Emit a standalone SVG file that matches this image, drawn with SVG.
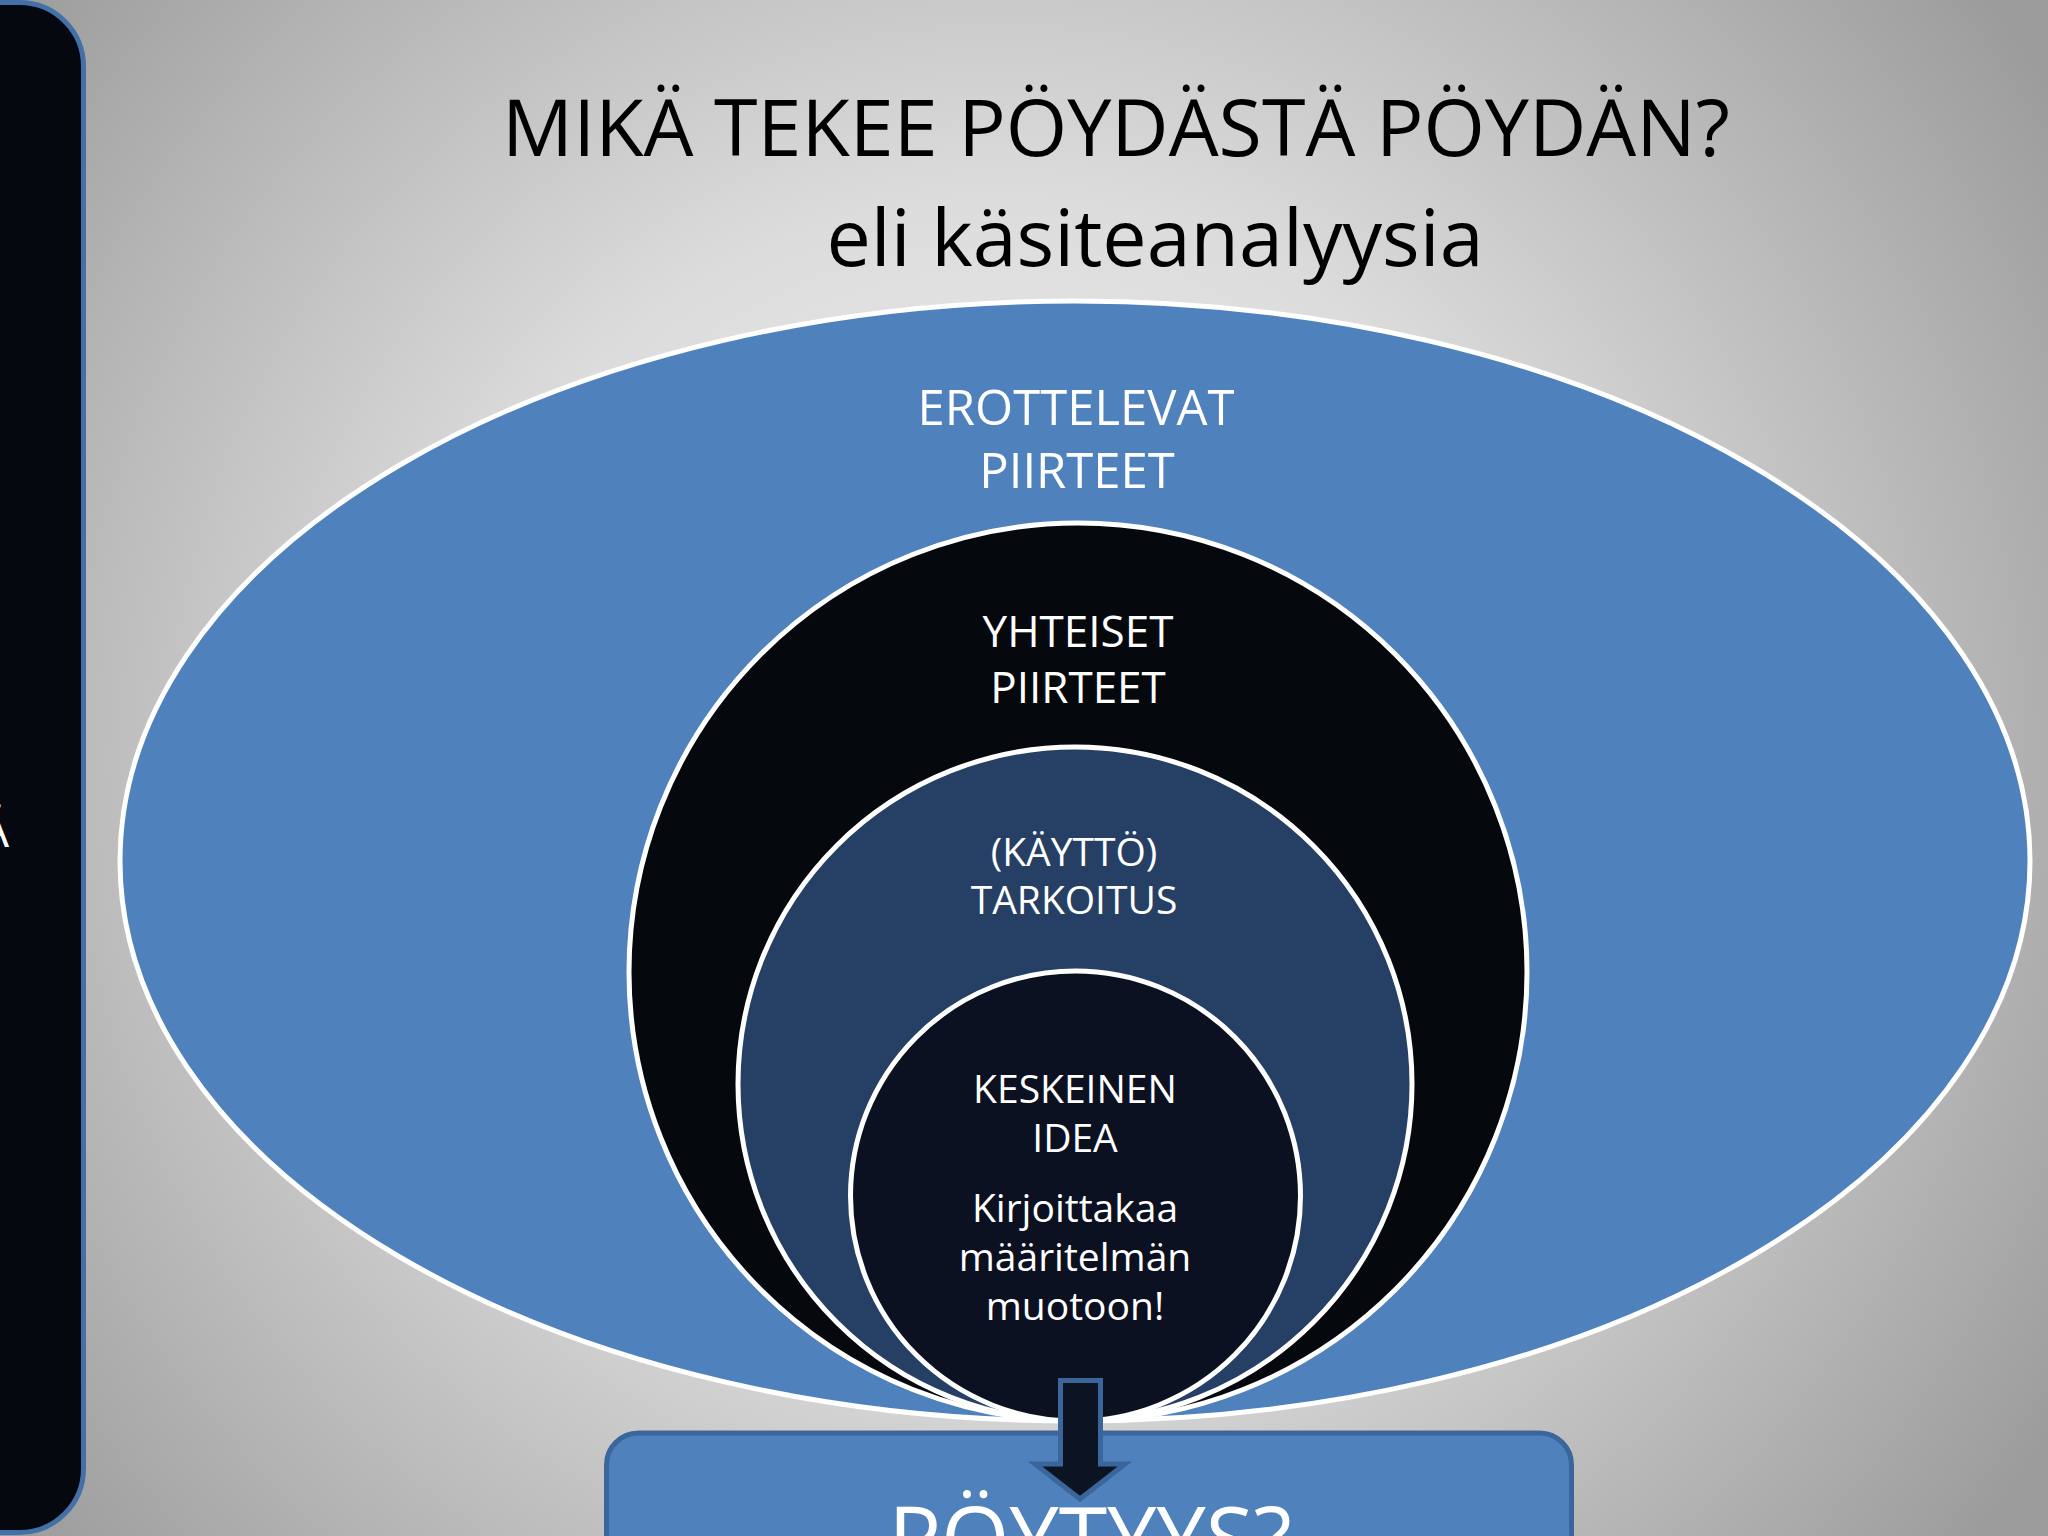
<svg xmlns="http://www.w3.org/2000/svg" width="2048" height="1536" viewBox="0 0 2048 1536">
  <defs>
    <radialGradient id="bg" cx="1000" cy="760" r="1250" gradientUnits="userSpaceOnUse">
      <stop offset="0" stop-color="#f4f4f4"/>
      <stop offset="0.45" stop-color="#dcdcdc"/>
      <stop offset="1" stop-color="#9c9c9c"/>
    </radialGradient>
  </defs>
  <style>
    .title { font-family: "Open Sans", "Liberation Sans", sans-serif; font-size: 79px; fill: #000000; text-anchor: middle; }
    .lbl { font-family: "Open Sans", "Liberation Sans", sans-serif; fill: #ffffff; text-anchor: middle; }
    .ring { stroke: #ffffff; stroke-width: 5; }
  </style>

  <rect x="0" y="0" width="2048" height="1536" fill="url(#bg)"/>

  <g id="side-panel">
    <rect x="-200" y="2.5" width="283.5" height="1530" rx="64" fill="#05080e" stroke="#4470a8" stroke-width="5"/>
    <text x="9" y="847" class="lbl" style="font-size:48px;text-anchor:end">Ä</text>
  </g>

  <g id="title">
    <text x="1116" y="156" class="title">MIKÄ TEKEE PÖYDÄSTÄ PÖYDÄN?</text>
    <text x="1155" y="266" class="title">eli käsiteanalyysia</text>
  </g>

  <g id="node-erottelevat">
    <ellipse cx="1075" cy="861" rx="955" ry="560" fill="#4f81bd" class="ring" stroke-width="6"/>
    <text class="lbl" style="font-size:49px" x="1076" y="425">EROTTELEVAT</text>
    <text class="lbl" style="font-size:49px" x="1077" y="488">PIIRTEET</text>
  </g>

  <g id="node-yhteiset">
    <circle cx="1078" cy="972" r="449" fill="#05080d" class="ring"/>
    <text class="lbl" style="font-size:44px" x="1078" y="647">YHTEISET</text>
    <text class="lbl" style="font-size:44px" x="1078" y="703">PIIRTEET</text>
  </g>

  <g id="node-tarkoitus">
    <circle cx="1075" cy="1084" r="337" fill="#263f64" class="ring"/>
    <text class="lbl" style="font-size:39px" x="1074" y="866">(KÄYTTÖ)</text>
    <text class="lbl" style="font-size:39px" x="1074" y="914">TARKOITUS</text>
  </g>

  <g id="node-keskeinen">
    <circle cx="1075.5" cy="1196" r="225" fill="#0b1120" class="ring"/>
    <text class="lbl" style="font-size:39px" x="1075" y="1103">KESKEINEN</text>
    <text class="lbl" style="font-size:39px" x="1075" y="1152">IDEA</text>
    <text class="lbl" style="font-size:39px" x="1075" y="1222">Kirjoittakaa</text>
    <text class="lbl" style="font-size:39px" x="1075" y="1271">määritelmän</text>
    <text class="lbl" style="font-size:39px" x="1075" y="1320">muotoon!</text>
  </g>

  <g id="node-poytyys">
    <rect x="606.5" y="1433" width="965" height="200" rx="32" fill="#4f81bd" stroke="#3b669c" stroke-width="5"/>
    <text class="lbl" style="font-size:88px" x="1090" y="1570">PÖYTYYS?</text>
  </g>

  <g id="connectors">
    <path d="M1060.5,1380.5 L1100.5,1380.5 L1100.5,1464 L1125,1464 L1080,1499 L1035,1464 L1060.5,1464 Z" fill="#0c1424" stroke="#3b669c" stroke-width="5" stroke-linejoin="miter"/>
  </g>
</svg>
